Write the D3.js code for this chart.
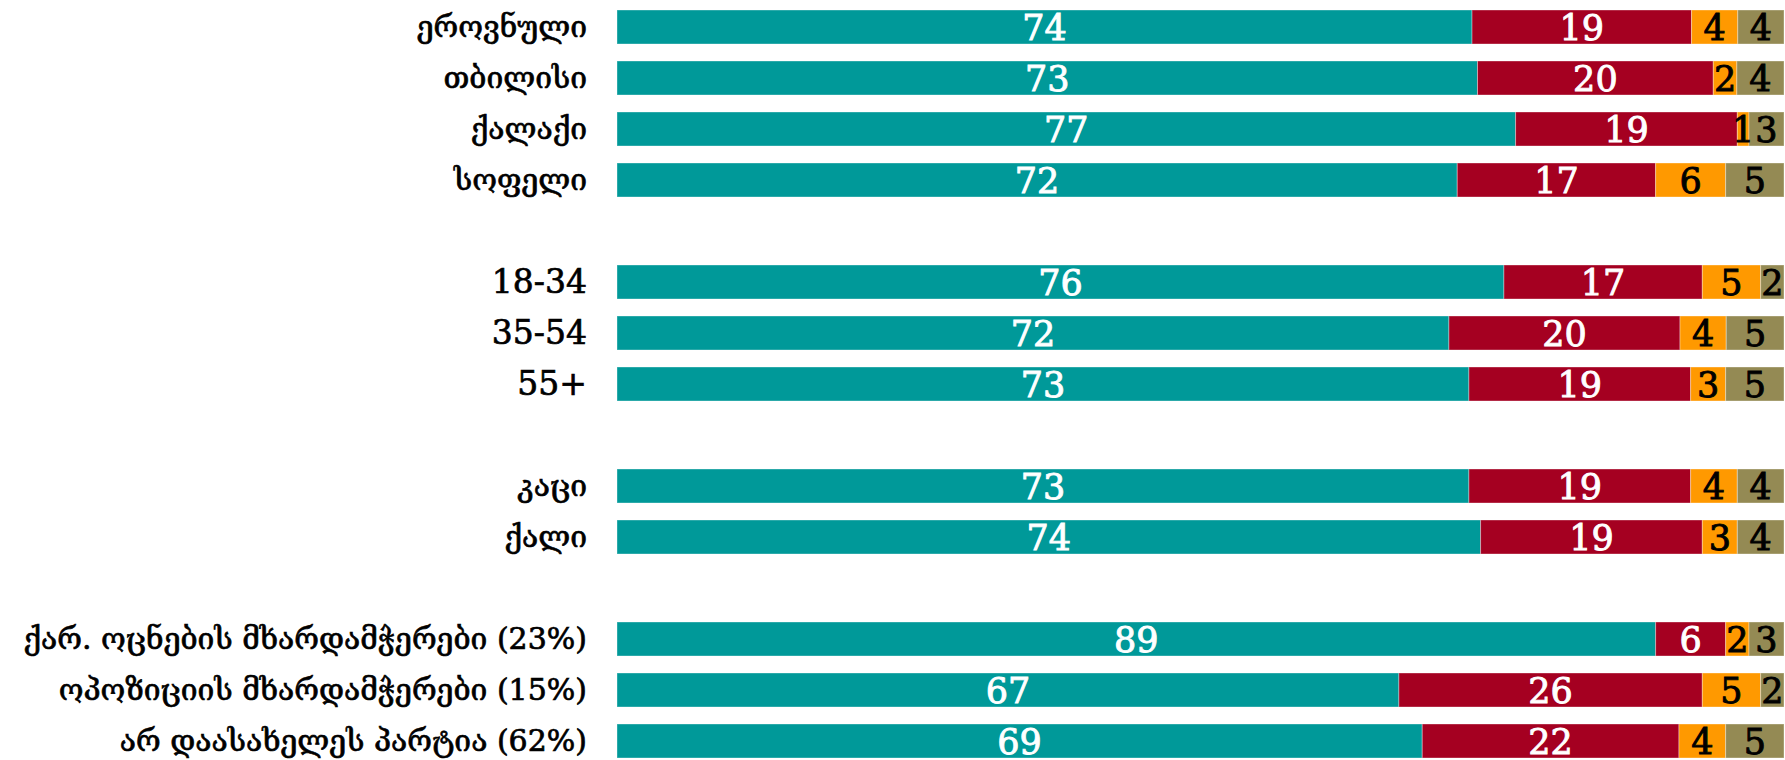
<!DOCTYPE html>
<html>
<head>
<meta charset="utf-8">
<script src="https://cdn.jsdelivr.net/npm/d3@7"></script>
<style>
  body { margin:0; background:#fff; }
  svg { display:block; }
</style>
</head>
<body>
<svg id="chart" width="1785" height="760"></svg>
<script>
// rows top to bottom, "" = empty slot between groups
var categories = ["ეროვნული", "თბილისი", "ქალაქი", "სოფელი", "",
  "18-34", "35-54", "55+", "",
  "კაცი", "ქალი", "",
  "ქარ. ოცნების მხარდამჭერები (23%)", "ოპოზიციის მხარდამჭერები (15%)", "არ დაასახელეს პარტია (62%)"];

var s1 = [74, 73, 77, 72, null, 76, 72, 73, null, 73, 74, null, 89, 67, 69];
var s2 = [19, 20, 19, 17, null, 17, 20, 19, null, 19, 19, null, 6, 26, 22];
var s3 = [4, 2, 1, 6, null, 5, 4, 3, null, 4, 3, null, 2, 5, 4];
var s4 = [4, 4, 3, 5, null, 2, 5, 5, null, 4, 4, null, 3, 2, 5];

var colors = ["#009999", "#A50021", "#FF9900", "#948A54"];
var textColors = ["#fff", "#fff", "#000", "#000"];

var svg = d3.select("#chart");
var margin = {left:617, right:1, top:1.5};
var width = 1785 - margin.left - margin.right;

var slots = categories.map(function(d, i) { return i; });
var yScale = d3.scaleBand()
  .domain(slots)
  .range([margin.top, margin.top + 51 * slots.length])
  .paddingInner(1/3)
  .paddingOuter(1/6);

var rows = [];
for (var i = 0; i < categories.length; i++) {
  if (s1[i] == null) continue;
  rows.push({i:i, name:categories[i], vals:[s1[i], s2[i], s3[i], s4[i]]});
}

var font = "DejaVu Serif";
var maxLabel = margin.left - 30 - 10;

rows.forEach(function(r) {
  var total = d3.sum(r.vals);
  var xScale = d3.scaleLinear().domain([0, total]).range([margin.left, margin.left + width]);
  var cum = 0;
  var segs = r.vals.map(function(v, k) {
    var s = {k:k, v:v, x0:cum, x1:cum + v};
    cum += v;
    return s;
  });

  var g = svg.append("g");
  g.selectAll("rect")
    .data(segs)
    .enter().append("rect")
      .attr("x", function(d) { return xScale(d.x0); })
      .attr("y", yScale(r.i))
      .attr("width", function(d) { return xScale(d.x1) - xScale(d.x0); })
      .attr("height", yScale.bandwidth())
      .attr("fill", function(d) { return colors[d.k]; })
      .attr("stroke", "#fff")
      .attr("stroke-opacity", 0.35)
      .attr("stroke-width", 1);

  g.selectAll("text")
    .data(segs)
    .enter().append("text")
      .attr("x", function(d) { return (xScale(d.x0) + xScale(d.x1)) / 2; })
      .attr("y", yScale(r.i) + yScale.bandwidth() / 2)
      .attr("dy", "0.38em")
      .attr("text-anchor", "middle")
      .attr("font-family", font)
      .attr("font-size", 35)
      .attr("fill", function(d) { return textColors[d.k]; })
      .attr("stroke", function(d) { return textColors[d.k]; })
      .attr("stroke-width", 0.9)
      .text(function(d) { return d.v; });

  // category label (georgian a bit smaller, it runs wide)
  var geo = /[\u10A0-\u10FF]/.test(r.name);
  var lbl = svg.append("text")
    .attr("x", margin.left - 30)
    .attr("y", yScale(r.i) + yScale.bandwidth() / 2)
    .attr("dy", "0.33em")
    .attr("text-anchor", "end")
    .attr("font-family", font)
    .attr("font-size", geo ? 30 : 33)
    .attr("fill", "#000")
    .attr("stroke", "#000")
    .attr("stroke-width", 0.7)
    .text(r.name);
  var w = lbl.node().getComputedTextLength();
  if (w > maxLabel) lbl.attr("font-size", 30 * maxLabel / w);
});
</script>
</body>
</html>
